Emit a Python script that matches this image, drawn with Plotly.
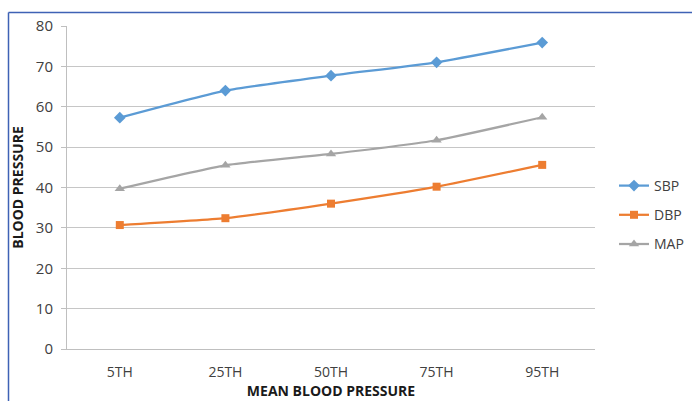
import plotly.graph_objects as go

# Percentile categories and blood-pressure readings
percentiles = ["5TH", "25TH", "50TH", "75TH", "95TH"]
sbp = [57.3, 64.0, 67.7, 71.0, 75.9]
dbp = [30.7, 32.4, 36.0, 40.2, 45.6]
mapv = [39.7, 45.5, 48.3, 51.7, 57.4]
y_ticks = [0, 10, 20, 30, 40, 50, 60, 70, 80]

series = [
    ("SBP", sbp, "#5B9BD5", "diamond", 9),
    ("DBP", dbp, "#ED7D31", "square", 8),
    ("MAP", mapv, "#A5A5A5", "triangle-up", 9),
]

fig = go.Figure()
for name, vals, color, symbol, size in series:
    fig.add_trace(go.Scatter(
        x=percentiles, y=vals, name=name, legendgroup=name,
        mode="lines+markers",
        line=dict(color=color, width=2.25, shape="spline", smoothing=0.5),
        marker=dict(symbol=symbol, size=size, color=color),
    ))

W, H = 692, 401
L, R, T, B = 67, 97, 26, 52
pw, ph = W - L - R, H - T - B

def px_x(x):
    return (x - L) / pw

def px_y(y):
    return (H - B - y) / ph

border = "#3E62B5"
fig.add_shape(type="line", xref="paper", yref="paper",
              x0=px_x(8.5), x1=px_x(700), y0=px_y(12.5), y1=px_y(12.5),
              line=dict(color=border, width=1.5))
fig.add_shape(type="line", xref="paper", yref="paper",
              x0=px_x(8.5), x1=px_x(8.5), y0=px_y(12.5), y1=px_y(410),
              line=dict(color=border, width=1.5))

fig.update_layout(
    width=W, height=H,
    margin=dict(l=L, r=R, t=T, b=B, pad=0, autoexpand=False),
    paper_bgcolor="white", plot_bgcolor="white",
    font=dict(family="Open Sans, Lato, sans-serif", color="#404040", size=13),
    showlegend=True,
    legend=dict(x=px_x(614), y=px_y(215), xanchor="left", yanchor="middle",
                font=dict(size=14, color="#404040"),
                tracegroupgap=8, itemwidth=30,
                bgcolor="rgba(0,0,0,0)"),
    xaxis=dict(
        type="category", range=[-0.5, 4.5],
        showgrid=False, showline=True, linecolor="#BFBFBF", linewidth=1,
        ticks="", tickfont=dict(size=14, color="#404040"),
        ticklabelstandoff=10,
        title=dict(text="<b>MEAN BLOOD PRESSURE</b>",
                   font=dict(size=14, color="#1a1a1a"), standoff=6),
    ),
    yaxis=dict(
        range=[0, 80], tickvals=y_ticks, showgrid=True, gridcolor="#C6C6C6",
        gridwidth=1, showline=True, linecolor="#BFBFBF", linewidth=1,
        ticks="outside", ticklen=5, tickcolor="#BFBFBF",
        tickfont=dict(size=15, color="#404040"), zeroline=False,
        ticklabelstandoff=5,
        title=dict(text="<b>BLOOD PRESSURE</b>",
                   font=dict(size=14, color="#1a1a1a"), standoff=8),
    ),
)

fig.write_html("out.html")
